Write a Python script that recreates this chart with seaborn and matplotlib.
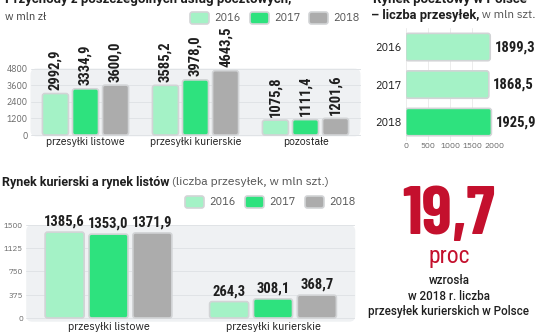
import matplotlib
matplotlib.use("Agg")
import matplotlib.pyplot as plt
from matplotlib.patches import FancyBboxPatch, Rectangle
import pandas as pd
import seaborn as sns

# ---- data -------------------------------------------------------------
years = ["2016", "2017", "2018"]

revenue_categories = ["przesyłki listowe", "przesyłki kurierskie", "pozostałe"]
revenue_2016 = [2992.9, 3585.2, 1075.8]
revenue_2017 = [3334.9, 3978.0, 1111.4]
revenue_2018 = [3600.0, 4643.5, 1201.6]
revenue_ticks = [0, 1200, 2400, 3600, 4800]

market_years = ["2016", "2017", "2018"]
market_volume = [1899.3, 1868.5, 1925.9]
market_ticks = [0, 500, 1000, 1500, 2000]

volume_categories = ["przesyłki listowe", "przesyłki kurierskie"]
volume_2016 = [1385.6, 264.3]
volume_2017 = [1353.0, 308.1]
volume_2018 = [1371.9, 368.7]
volume_ticks = [0, 375, 750, 1125, 1500]

growth_value = "19,7"
growth_unit = "proc"
growth_note = ["wzrosła", "w 2018 r. liczba", "przesyłek kurierskich w Polsce"]

# ---- style ------------------------------------------------------------
LIGHT = "#a4f2c6"
GREEN = "#2ee27e"
GREY = "#acacac"
EDGE = "#d2d4d6"
PANEL_BG = "#eff1f3"
GRID = "#e0e3e6"
RED = "#c4102d"
DARK = "#1e1e1e"
TICK = "#6a6a6a"
year_palette = dict(zip(years, [LIGHT, GREEN, GREY]))
market_palette = dict(zip(market_years, [LIGHT, LIGHT, GREEN]))

sns.set_theme(style="white")
plt.rcParams["font.family"] = ["IBM Plex Sans", "DejaVu Sans"]
NUM = ["Roboto Condensed", "DejaVu Sans"]
HEAD = ["Roboto", "DejaVu Sans"]

W, H = 536, 332
fig = plt.figure(figsize=(W / 100, H / 100), dpi=100)
renderer = fig.canvas.get_renderer()


def box(l, t, r, b):
    return [l / W, 1 - b / H, (r - l) / W, (b - t) / H]


def fy(y):
    return 1 - y / H


def fmt(v):
    return f"{v:.1f}".replace(".", ",")


def long_form(categories, series):
    rows = []
    for year, vals in zip(years, series):
        for cat, v in zip(categories, vals):
            rows.append({"kategoria": cat, "rok": year, "wartosc": v})
    return pd.DataFrame(rows)


def panel_background(ax, radius=6):
    bb = ax.get_window_extent(renderer)
    bg = FancyBboxPatch((0, 0), 1, 1, transform=ax.transAxes,
                        boxstyle=f"round,pad=0,rounding_size={radius / bb.width}",
                        mutation_aspect=bb.width / bb.height,
                        fc=PANEL_BG, ec="none", zorder=0, clip_on=False)
    ax.add_patch(bg)
    ax.set_facecolor("none")


def round_bars(ax, radius=2.5, lw=1.2):
    p0 = ax.transData.transform((0, 0))
    p1 = ax.transData.transform((1, 1))
    sx, sy = abs(p1[0] - p0[0]), abs(p1[1] - p0[1])
    for p in [q for q in ax.patches if type(q) is Rectangle]:
        x, y, w, h = p.get_x(), p.get_y(), p.get_width(), p.get_height()
        fc = p.get_facecolor()
        p.set_visible(False)
        ax.add_patch(FancyBboxPatch(
            (x, y), w, h,
            boxstyle=f"round,pad=0,rounding_size={radius / sx}",
            mutation_aspect=sx / sy, fc=fc, ec=EDGE, lw=lw, zorder=3))


def style_axes(ax):
    for s in ax.spines.values():
        s.set_visible(False)
    ax.set_xlabel("")
    ax.set_ylabel("")


def text_runs(x_px, y_px, runs, va="center"):
    x = x_px
    for s, kw in runs:
        t = fig.text(x / W, fy(y_px), s, va=va, ha="left", **kw)
        x += t.get_window_extent(renderer).width


def legend_row(x_list, y_px, w=19, h=12):
    for x, year in zip(x_list, years):
        fig.patches.append(FancyBboxPatch(
            (x / W, fy(y_px + h / 2)), w / W, h / H,
            boxstyle=f"round,pad=0,rounding_size={2.5 / W}",
            mutation_aspect=W / H,
            transform=fig.transFigure, figure=fig,
            fc=year_palette[year], ec=EDGE, lw=1.2))
        fig.text((x + w + 5) / W, fy(y_px), year, va="center", ha="left",
                 fontsize=7.8, color="#555555")


# ---- panel 1: revenues --------------------------------------------------
ax1 = fig.add_axes(box(30.5, 68.5, 360.5, 136.4))
df1 = long_form(revenue_categories, [revenue_2016, revenue_2017, revenue_2018])
sns.barplot(data=df1, x="kategoria", y="wartosc", hue="rok", palette=year_palette,
            saturation=1, width=0.82, gap=0.135, legend=False, ax=ax1, zorder=3)
ax1.set_xlim(-0.5, 2.5)
ax1.set_ylim(-100, 4800)
ax1.set_yticks(revenue_ticks)
ax1.set_yticklabels([str(t) for t in revenue_ticks])
ax1.yaxis.grid(True, color=GRID, lw=0.7)
ax1.set_axisbelow(True)
ax1.tick_params(axis="y", length=0, pad=2, labelsize=6.3, labelcolor=TICK)
ax1.tick_params(axis="x", length=0, pad=0.5, labelsize=7.6, labelcolor=DARK)
style_axes(ax1)
panel_background(ax1)
for cont, vals in zip(ax1.containers, [revenue_2016, revenue_2017, revenue_2018]):
    ax1.bar_label(cont, labels=[fmt(v) for v in vals], rotation=90, padding=2.5,
                  fontsize=10.5, fontweight="bold", family=NUM, color=DARK,
                  clip_on=False)
round_bars(ax1)

# ---- panel 2: postal market ----------------------------------------------
ax2 = fig.add_axes(box(405.7, 28.3, 494.7, 140.8))
df2 = pd.DataFrame({"rok": market_years, "wartosc": market_volume})
sns.barplot(data=df2, x="wartosc", y="rok", hue="rok", palette=market_palette,
            saturation=1, width=0.73, legend=False, orient="h", ax=ax2, zorder=3)
ax2.set_xlim(0, 2000)
ax2.set_ylim(2.5, -0.5)
ax2.set_xticks(market_ticks)
ax2.set_xticklabels([str(t) for t in market_ticks])
ax2.xaxis.grid(True, color="#ececec", lw=0.7)
ax2.set_axisbelow(True)
ax2.tick_params(axis="x", length=0, pad=1, labelsize=6, labelcolor=TICK)
ax2.tick_params(axis="y", length=0, pad=3, labelsize=7.8, labelcolor=DARK)
style_axes(ax2)
ax2.set_facecolor("none")
for cont in ax2.containers:
    for bar in cont:
        idx = int(round(bar.get_y() + bar.get_height() / 2))
        ax2.annotate(fmt(market_volume[idx]), (bar.get_width(), idx),
                     xytext=(3, 0), textcoords="offset points", va="center",
                     ha="left", fontsize=10.5, fontweight="bold", family=NUM,
                     color=DARK, annotation_clip=False)
round_bars(ax2)

# ---- panel 3: courier vs letters --------------------------------------------
ax3 = fig.add_axes(box(26.25, 225, 355.25, 321.7))
df3 = long_form(volume_categories, [volume_2016, volume_2017, volume_2018])
sns.barplot(data=df3, x="kategoria", y="wartosc", hue="rok", palette=year_palette,
            saturation=1, width=0.8, gap=0.11, legend=False, ax=ax3, zorder=3)
ax3.set_xlim(-0.5, 1.5)
ax3.set_ylim(-60, 1500)
ax3.set_yticks(volume_ticks)
ax3.set_yticklabels([str(t) for t in volume_ticks])
ax3.yaxis.grid(True, color=GRID, lw=0.7)
ax3.set_axisbelow(True)
ax3.tick_params(axis="y", length=0, pad=2.5, labelsize=5.8, labelcolor=TICK)
ax3.tick_params(axis="x", length=0, pad=0, labelsize=7.8, labelcolor=DARK)
style_axes(ax3)
panel_background(ax3)
for cont, vals in zip(ax3.containers, [volume_2016, volume_2017, volume_2018]):
    ax3.bar_label(cont, labels=[fmt(v) for v in vals], padding=2.5,
                  fontsize=10.5, fontweight="bold", family=NUM, color=DARK,
                  clip_on=False)
round_bars(ax3)

# ---- headings and legends -------------------------------------------------
fig.text(5 / W, fy(2.5), "Przychody z poszczególnych usług pocztowych,",
         fontsize=9.5, fontweight="bold", family=HEAD, color=DARK, va="baseline")
fig.text(5 / W, fy(17), "w mln zł", fontsize=8, color="#444444", va="center")
legend_row([190, 250, 309], 18)

fig.text(373 / W, fy(2.5), "Rynek pocztowy w Polsce",
         fontsize=9.5, fontweight="bold", family=HEAD, color=DARK, va="baseline")
text_runs(371, 15, [("– liczba przesyłek,", dict(fontsize=9.3, fontweight="bold", family=HEAD, color=DARK)),
                    (" w mln szt.", dict(fontsize=8.6, color="#555555"))])

text_runs(2, 182, [("Rynek kurierski a rynek listów", dict(fontsize=9, fontweight="bold", family=HEAD, color=DARK)),
                   (" (liczba przesyłek, w mln szt.)", dict(fontsize=8.8, color="#555555"))])
legend_row([185, 245, 305], 202)

# ---- highlight figure ---------------------------------------------------------
fig.text(449 / W, fy(234), growth_value, ha="center", va="baseline",
         fontsize=50, fontweight="bold", family=["Barlow Condensed", "DejaVu Sans"],
         color=RED)
fig.text(449 / W, fy(263), growth_unit, ha="center", va="baseline",
         fontsize=17, family=NUM, color=RED)
for line, y in zip(growth_note, [281, 297, 312]):
    fig.text(449 / W, fy(y), line, ha="center", va="center", fontsize=8.4,
             fontweight="medium", family=HEAD, color=DARK)

fig.savefig("out.png", dpi=100)
